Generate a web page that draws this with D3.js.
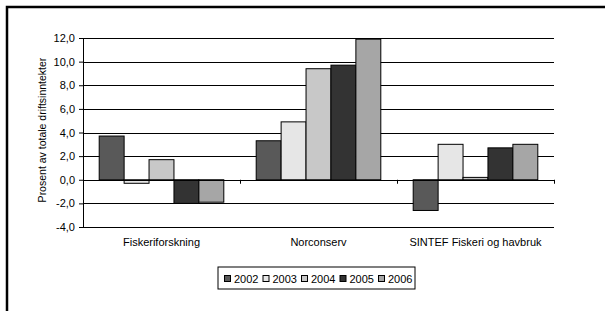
<!DOCTYPE html>
<html>
<head>
<meta charset="utf-8">
<script src="https://cdn.jsdelivr.net/npm/d3@7"></script>
<style>
  body { margin: 0; background: #fff; }
  svg text { font-family: "Liberation Sans", Arial, sans-serif; font-size: 11px; fill: #000; }
</style>
</head>
<body>
<svg id="chart"></svg>
<script>
const categories = ['Fiskeriforskning', 'Norconserv', 'SINTEF Fiskeri og havbruk'];
const years = ['2002', '2003', '2004', '2005', '2006'];
const values2002 = [3.7, 3.3, -2.6];
const values2003 = [-0.3, 4.9, 3.0];
const values2004 = [1.7, 9.4, 0.2];
const values2005 = [-2.0, 9.7, 2.7];
const values2006 = [-1.9, 11.9, 3.0];
const yTicks = [-4, -2, 0, 2, 4, 6, 8, 10, 12];
const colors = ['#595959', '#e6e6e6', '#c8c8c8', '#333333', '#a6a6a6'];

const series = [values2002, values2003, values2004, values2005, values2006];

const width = 605, height = 311;
const margin = { left: 83, right: 51, top: 38, bottom: 83 };

const svg = d3.select('#chart')
    .attr('width', width)
    .attr('height', height);

// outer frame (runs off the right and bottom edges)
svg.append('rect')
    .attr('x', 7).attr('y', 7)
    .attr('width', 620).attr('height', 320)
    .attr('fill', 'none')
    .attr('stroke', '#000')
    .attr('stroke-width', 2.5);

const chart = svg.append('g')
    .attr('transform', `translate(${margin.left}, ${margin.top})`);

const innerW = width - margin.left - margin.right;
const innerH = height - margin.top - margin.bottom - 1;

const xscale = d3.scaleBand()
    .domain(categories)
    .range([0, innerW]);

const xinner = d3.scaleBand()
    .domain(years)
    .range([0, xscale.bandwidth()])
    .paddingOuter(0.65);

const yscale = d3.scaleLinear()
    .domain([-4, 12])
    .range([innerH, 0]);

// gridlines
chart.append('g')
    .selectAll('line')
    .data(yTicks)
    .join('line')
    .attr('x1', 0).attr('x2', innerW)
    .attr('y1', d => Math.round(yscale(d)) + 0.5)
    .attr('y2', d => Math.round(yscale(d)) + 0.5)
    .attr('stroke', '#000')
    .attr('stroke-width', 1);

// bars
years.forEach((yr, i) => {
    chart.append('g')
        .selectAll('rect')
        .data(series[i])
        .join('rect')
        .attr('x', (d, j) => xscale(categories[j]) + xinner(yr))
        .attr('y', d => yscale(Math.max(0, d)))
        .attr('width', xinner.bandwidth())
        .attr('height', d => Math.abs(yscale(d) - yscale(0)))
        .attr('fill', colors[i])
        .attr('stroke', '#000')
        .attr('stroke-width', 1);
});

// y axis
const yaxis = d3.axisLeft(yscale)
    .tickValues(yTicks)
    .tickSize(4)
    .tickFormat(d => d3.format('.1f')(d).replace('.', ',').replace('−', '-'));

const yg = chart.append('g').call(yaxis);
yg.select('.domain').attr('stroke', '#000');
yg.selectAll('text').attr('x', -8).style('font-size', '11px');

// zero axis with category ticks
chart.append('line')
    .attr('x1', 0).attr('x2', innerW)
    .attr('y1', Math.round(yscale(0)) + 0.5)
    .attr('y2', Math.round(yscale(0)) + 0.5)
    .attr('stroke', '#000');

const boundaries = categories.map(c => xscale(c)).concat([innerW]);
chart.append('g')
    .selectAll('line')
    .data(boundaries)
    .join('line')
    .attr('x1', d => Math.round(d) + 0.5).attr('x2', d => Math.round(d) + 0.5)
    .attr('y1', yscale(0)).attr('y2', yscale(0) + 4)
    .attr('stroke', '#000');

// category labels
chart.append('g')
    .selectAll('text')
    .data(categories)
    .join('text')
    .attr('x', d => xscale(d) + xscale.bandwidth() / 2)
    .attr('y', innerH + 19)
    .attr('text-anchor', 'middle')
    .text(d => d);

// y label
svg.append('text')
    .attr('transform', 'translate(46, 130) rotate(-90)')
    .attr('text-anchor', 'middle')
    .style('font-size', '10.5px')
    .text('Prosent av totale driftsinntekter');

// legend
const legend = svg.append('g').attr('transform', 'translate(218, 267)');
legend.append('rect')
    .attr('width', 197).attr('height', 22)
    .attr('fill', '#fff')
    .attr('stroke', '#000');

const item = legend.selectAll('g.item')
    .data(years)
    .join('g')
    .attr('class', 'item')
    .attr('transform', (d, i) => `translate(${6 + i * 38.5}, 0)`);

item.append('rect')
    .attr('x', 0.5).attr('y', 8.5)
    .attr('width', 6).attr('height', 6)
    .attr('fill', (d, i) => colors[i])
    .attr('stroke', '#000');

item.append('text')
    .attr('x', 10)
    .attr('y', 15.5)
    .text(d => d);
</script>
</body>
</html>
